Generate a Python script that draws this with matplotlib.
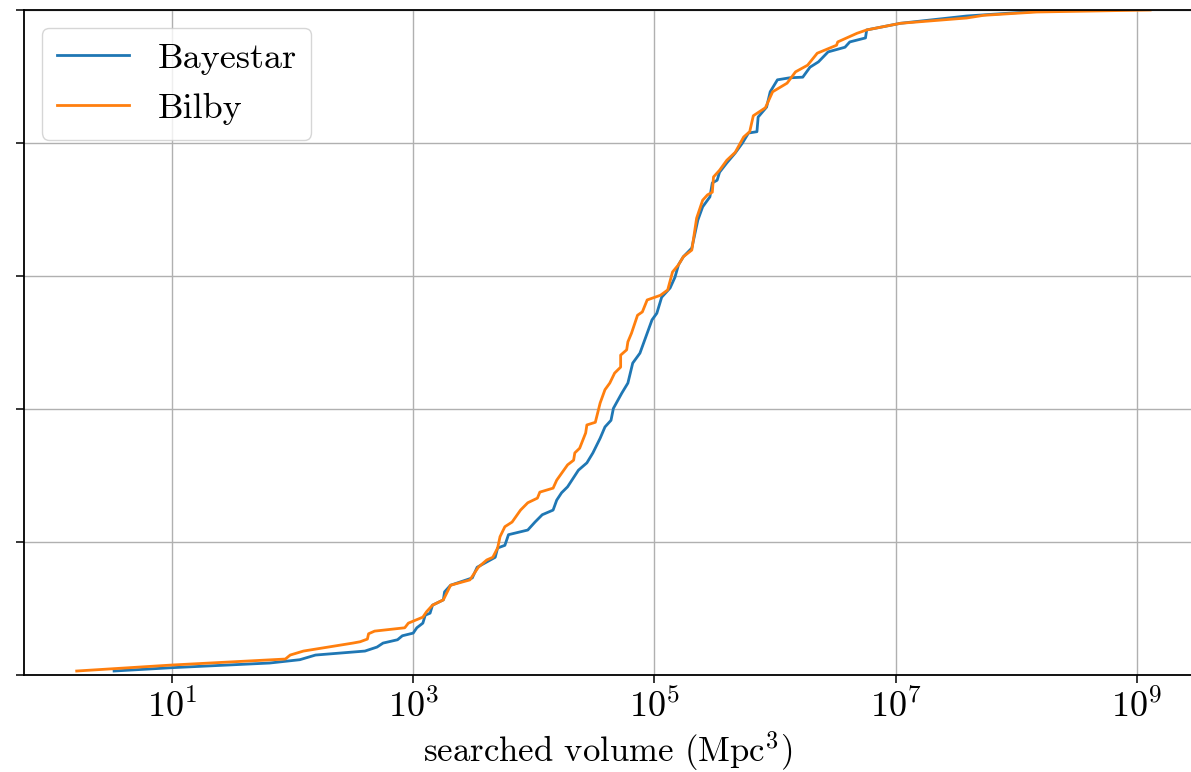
import matplotlib
matplotlib.use("Agg")
import matplotlib.pyplot as plt
from matplotlib.ticker import NullLocator
import numpy as np

# computer modern look (no latex in sandbox)
plt.rcParams['font.family'] = 'serif'
plt.rcParams['font.serif'] = ['cmr10', 'DejaVu Serif']
plt.rcParams['mathtext.fontset'] = 'cm'
plt.rcParams['axes.formatter.use_mathtext'] = True

# log10 of searched volume (Mpc^3) and cumulative fraction
bayestar_logvol = [0.52, 1.00, 1.81, 2.06, 2.19, 2.60, 2.70, 2.75, 2.87, 2.91, 3.00, 3.03,
                   3.08, 3.10, 3.14, 3.16, 3.25, 3.26, 3.31, 3.49, 3.53, 3.68, 3.70, 3.76,
                   3.79, 3.95, 4.01, 4.07, 4.16, 4.19, 4.23, 4.28, 4.37, 4.44, 4.49, 4.55,
                   4.59, 4.64, 4.66, 4.73, 4.78, 4.82, 4.88, 4.94, 4.98, 5.02, 5.06, 5.13,
                   5.17, 5.20, 5.24, 5.31, 5.36, 5.40, 5.46, 5.48, 5.52, 5.54, 5.60, 5.67,
                   5.73, 5.78, 5.85, 5.86, 5.93, 5.96, 6.02, 6.12, 6.23, 6.29, 6.36, 6.44,
                   6.58, 6.62, 6.75, 6.76, 7.04, 7.59, 8.17, 8.53]
bayestar_frac = [0.006, 0.011, 0.018, 0.023, 0.030, 0.036, 0.042, 0.048, 0.053, 0.059, 0.063, 0.071,
                 0.078, 0.090, 0.093, 0.105, 0.113, 0.125, 0.135, 0.146, 0.162, 0.177, 0.191, 0.195,
                 0.211, 0.218, 0.230, 0.241, 0.248, 0.263, 0.274, 0.283, 0.308, 0.319, 0.334, 0.356,
                 0.373, 0.383, 0.401, 0.424, 0.439, 0.469, 0.484, 0.514, 0.534, 0.544, 0.568, 0.582,
                 0.598, 0.617, 0.629, 0.642, 0.684, 0.704, 0.719, 0.740, 0.744, 0.756, 0.770, 0.785,
                 0.800, 0.815, 0.817, 0.839, 0.854, 0.877, 0.895, 0.898, 0.899, 0.914, 0.922, 0.937,
                 0.944, 0.952, 0.958, 0.970, 0.980, 0.991, 0.998, 1.000]

bilby_logvol = [0.21, 1.00, 1.94, 1.98, 2.09, 2.50, 2.56, 2.62, 2.63, 2.68, 2.93, 2.96,
                3.08, 3.11, 3.16, 3.25, 3.31, 3.47, 3.54, 3.61, 3.66, 3.70, 3.72, 3.76,
                3.82, 3.89, 3.95, 4.03, 4.05, 4.16, 4.19, 4.28, 4.33, 4.34, 4.38, 4.43,
                4.44, 4.51, 4.55, 4.59, 4.63, 4.67, 4.72, 4.72, 4.77, 4.78, 4.81, 4.86,
                4.90, 4.94, 5.05, 5.11, 5.15, 5.20, 5.24, 5.31, 5.35, 5.40, 5.44, 5.48,
                5.49, 5.54, 5.60, 5.67, 5.74, 5.79, 5.82, 5.92, 5.98, 6.10, 6.17, 6.27,
                6.35, 6.51, 6.52, 6.68, 6.76, 7.04, 7.59, 7.73, 8.17, 9.11]
bilby_frac = [0.006, 0.015, 0.024, 0.030, 0.036, 0.048, 0.050, 0.054, 0.062, 0.066, 0.071, 0.078,
              0.087, 0.095, 0.105, 0.113, 0.135, 0.143, 0.162, 0.173, 0.177, 0.191, 0.208, 0.223,
              0.230, 0.248, 0.259, 0.266, 0.275, 0.281, 0.293, 0.316, 0.323, 0.334, 0.341, 0.364,
              0.376, 0.380, 0.409, 0.429, 0.439, 0.454, 0.463, 0.481, 0.489, 0.501, 0.514, 0.541,
              0.546, 0.564, 0.571, 0.579, 0.606, 0.617, 0.629, 0.639, 0.687, 0.714, 0.722, 0.726,
              0.749, 0.759, 0.774, 0.786, 0.809, 0.817, 0.841, 0.853, 0.877, 0.890, 0.907, 0.917,
              0.935, 0.947, 0.952, 0.965, 0.970, 0.980, 0.988, 0.992, 0.997, 1.000]

xticks = [1e1, 1e3, 1e5, 1e7, 1e9]
yticks = [0, 0.2, 0.4, 0.6, 0.8, 1.0]

fig = plt.figure(figsize=(11.91, 7.72), dpi=100)
ax = fig.add_axes([24/1191, 97/772, 1167/1191, 665/772])

ax.plot(np.power(10.0, bayestar_logvol), bayestar_frac, color='#1f77b4', lw=2.0, label='Bayestar')
ax.plot(np.power(10.0, bilby_logvol), bilby_frac, color='#ff7f0e', lw=2.0, label='Bilby')

ax.set_xscale('log')
ax.set_xlim(10**-0.227, 10**9.449)
ax.set_ylim(0, 1)
ax.set_xticks(xticks)
ax.xaxis.set_minor_locator(NullLocator())
ax.set_yticks(yticks)
ax.tick_params(labelleft=False, labelsize=26, length=6, width=1.1)
ax.grid(True, color='#b0b0b0', lw=1.0)
ax.spines['right'].set_visible(False)
for s in ['left', 'bottom', 'top']:
    ax.spines[s].set_linewidth(1.3)

ax.set_xlabel(r'searched volume (Mpc$^3$)', fontsize=25, labelpad=4)
ax.legend(loc='upper left', fontsize=26, borderaxespad=0.5)

fig.savefig('out.png', dpi=100)
